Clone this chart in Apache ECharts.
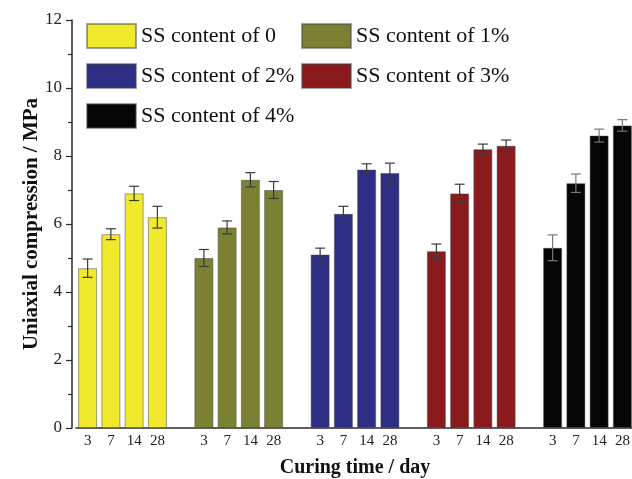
<!DOCTYPE html>
<html>
<head>
<meta charset="utf-8">
<script src="https://cdn.jsdelivr.net/npm/echarts@6/dist/echarts.min.js"></script>
<style>
  html, body { margin: 0; padding: 0; background: #fff; }
  #chart { width: 632px; height: 479px; }
</style>
</head>
<body>
<div id="chart"></div>
<script>
// Curing ages shown under each bar
const days = ['3', '7', '14', '28'];

// Series names (SS dosage)
const groupNames = ['SS content of 0', 'SS content of 1%', 'SS content of 2%', 'SS content of 3%', 'SS content of 4%'];
const groupColors = ['#f1e92c', '#7b8033', '#2e2e84', '#8a1a1c', '#050505'];

// Uniaxial compressive strength (MPa) at 3, 7, 14, 28 days
const ss0 = [4.7, 5.7, 6.9, 6.2];
const ss1 = [5.0, 5.9, 7.3, 7.0];
const ss2 = [5.1, 6.3, 7.6, 7.5];
const ss3 = [5.2, 6.9, 8.2, 8.3];
const ss4 = [5.3, 7.2, 8.6, 8.9];

// Standard deviation (MPa)
const err0 = [0.27, 0.16, 0.21, 0.32];
const err1 = [0.25, 0.19, 0.21, 0.25];
const err2 = [0.19, 0.22, 0.17, 0.29];
const err3 = [0.21, 0.27, 0.15, 0.17];
const err4 = [0.38, 0.27, 0.19, 0.17];

const yTicks = { min: 0, max: 12, interval: 2 };

const values = [ss0, ss1, ss2, ss3, ss4];
const errors = [err0, err1, err2, err3, err4];

// One category slot per bar, with an empty slot between groups
const categories = [];
const slotOf = [];
groupNames.forEach((_, g) => {
  slotOf.push([]);
  days.forEach(d => { slotOf[g].push(categories.length); categories.push(d); });
  if (g < groupNames.length - 1) categories.push('');
});

const barSeries = groupNames.map((name, g) => {
  const data = categories.map(() => '-');
  values[g].forEach((v, j) => { data[slotOf[g][j]] = v; });
  return {
    name: name,
    type: 'bar',
    stack: 'all',
    barWidth: 19,
    data: data,
    itemStyle: { color: groupColors[g], borderColor: 'rgba(70,70,70,0.5)', borderWidth: 1 },
    emphasis: { disabled: true },
    z: 2
  };
});

const errData = [];
values.forEach((arr, g) => {
  arr.forEach((v, j) => {
    errData.push([slotOf[g][j], v - errors[g][j], v + errors[g][j], g]);
  });
});

const errorSeries = {
  type: 'custom',
  name: 'error',
  data: errData,
  z: 5,
  silent: true,
  renderItem: function (params, api) {
    const x = api.value(0);
    const lo = api.coord([x, api.value(1)]);
    const hi = api.coord([x, api.value(2)]);
    const g = api.value(3);
    const cap = 5;
    const col = g === 4 ? '#777' : '#3a3a3a';
    const style = { stroke: col, lineWidth: 1.2, fill: null };
    return {
      type: 'group',
      children: [
        { type: 'line', shape: { x1: hi[0], y1: hi[1], x2: lo[0], y2: lo[1] }, style: style },
        { type: 'line', shape: { x1: hi[0] - cap, y1: hi[1], x2: hi[0] + cap, y2: hi[1] }, style: style },
        { type: 'line', shape: { x1: lo[0] - cap, y1: lo[1], x2: lo[0] + cap, y2: lo[1] }, style: style }
      ]
    };
  }
};

const serif = 'Liberation Serif, Times New Roman, serif';

// Two legend columns: 0 / 2% / 4% on the left, 1% / 3% on the right
const legendBase = {
  orient: 'vertical',
  top: 23,
  padding: 0,
  itemWidth: 49,
  itemHeight: 24,
  itemGap: 14,
  icon: 'rect',
  selectedMode: false,
  textStyle: { fontFamily: serif, fontSize: 22, color: '#111', lineHeight: 24 }
};

const chart = echarts.init(document.getElementById('chart'), null, { renderer: 'canvas' });
chart.setOption({
  animation: false,
  backgroundColor: '#fff',
  grid: { left: 76, top: 20, width: 558, height: 408, outerBoundsMode: 'none', containLabel: false },
  legend: [
    Object.assign({}, legendBase, { left: 86, data: [groupNames[0], groupNames[2], groupNames[4]] }),
    Object.assign({}, legendBase, { left: 301, data: [groupNames[1], groupNames[3]] })
  ],
  xAxis: {
    type: 'category',
    data: categories,
    name: 'Curing time / day',
    nameLocation: 'middle',
    nameGap: 30,
    nameMoveOverlap: false,
    nameTextStyle: { fontFamily: serif, fontSize: 20, fontWeight: 'bold', color: '#111', verticalAlign: 'top' },
    axisLine: { lineStyle: { color: '#2a2a2a', width: 1.5 } },
    axisTick: { show: false },
    axisLabel: { fontFamily: serif, fontSize: 15, color: '#222', margin: 6, interval: 0 },
    splitLine: { show: false }
  },
  yAxis: {
    type: 'value',
    min: yTicks.min,
    max: yTicks.max,
    interval: yTicks.interval,
    offset: 4,
    name: 'Uniaxial compression / MPa',
    nameLocation: 'middle',
    nameGap: 30,
    nameMoveOverlap: false,
    nameTextStyle: { fontFamily: serif, fontSize: 21, fontWeight: 'bold', color: '#111' },
    axisLine: { show: true, lineStyle: { color: '#2a2a2a', width: 1.5 } },
    axisTick: { show: true, length: 6, lineStyle: { color: '#2a2a2a', width: 1.2 } },
    minorTick: { show: true, splitNumber: 2, length: 4, lineStyle: { color: '#2a2a2a', width: 1.2 } },
    axisLabel: { fontFamily: serif, fontSize: 17, color: '#222', margin: 10 },
    splitLine: { show: false }
  },
  series: barSeries.concat([errorSeries])
});
</script>
</body>
</html>
